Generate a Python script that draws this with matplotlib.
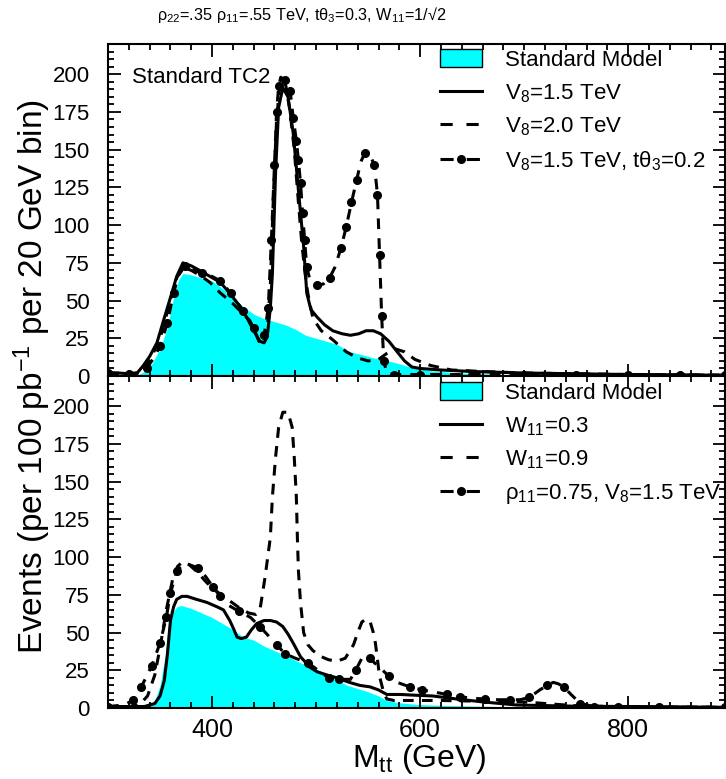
#!/usr/bin/env python3
# -*- coding: utf-8 -*-
"""
M_tt distributions in TC2: two stacked panels sharing the mass axis.
  top    : Standard TC2 vs V8 / t-theta3 variations
  bottom : W11 and rho11 variations
"""
import matplotlib
matplotlib.use("Agg")
import matplotlib.pyplot as plt
from matplotlib.lines import Line2D
from matplotlib.patches import Patch
from matplotlib.ticker import MultipleLocator

plt.rcParams.update({
    "font.family": ["Liberation Sans", "DejaVu Sans"],
    "mathtext.default": "regular",
    "axes.linewidth": 1.5,
})

CYAN = "#00FFFF"

# ---- top panel -------------------------------------------------------------
sm_top_x = [300, 320, 328, 335, 342, 350, 357, 363, 368, 372, 380, 390, 400,
            410, 420, 430, 440, 450, 460, 470, 480, 490, 500, 510, 520, 533,
            545, 555, 565, 575, 581, 590, 610, 640, 680, 720, 780, 850, 893]
sm_top_y = [0, 0, 0.5, 3, 8, 18, 32, 52, 64, 68, 67, 65, 63, 58, 52, 46, 41,
            38, 36, 34, 31, 27, 25, 23, 21, 16, 14, 12, 11, 9, 8, 6, 3.5, 2,
            1, 0.6, 0.3, 0.2, 0.1]

v15_x = [300, 310, 320, 328, 334, 340, 347, 353, 360, 366, 372, 380, 388, 398,
         408, 418, 427, 434, 440, 446, 450, 453, 456, 458, 461, 464, 468, 473,
         478, 483, 488, 491, 495, 501, 508, 516, 525, 533, 541, 548, 555, 562,
         570, 578, 585, 592, 600, 620, 650, 700, 750, 800, 850, 893]
v15_y = [2, 2, 1.5, 2, 7, 13, 22, 36, 52, 66, 75, 73, 70, 66, 62, 54, 46, 38,
         30, 23, 22, 26, 45, 68, 134, 178, 191, 185, 161, 123, 86, 55, 44, 39,
         34, 30, 28, 27, 28, 30, 30, 28, 23, 16, 10, 6, 5, 4, 3, 2, 1.5, 1,
         0.8, 0.5]

v20_x = [300, 320, 330, 340, 350, 360, 366, 372, 380, 390, 398, 408, 420, 430,
         436, 441, 445, 449, 453, 456, 459, 462, 465, 468, 471, 475, 479, 483,
         486, 489, 492, 497, 505, 516, 529, 540, 550, 560, 568, 576, 585, 595,
         610, 630, 660, 700, 750, 800, 893]
v20_y = [2, 1.5, 2, 10, 25, 50, 65, 72, 70, 66, 62, 55, 48, 41, 37, 30, 23,
         21, 30, 60, 120, 170, 192, 197, 192, 175, 150, 115, 90, 70, 55, 38,
         30, 24, 16, 12, 10, 11, 15, 18, 16, 11, 7, 4, 3, 2, 1.5, 1, 0.5]

tth_x = [300, 320, 330, 337, 344, 350, 357, 363, 368, 374, 380, 390, 400, 408,
         418, 430, 440, 446, 450, 454, 457, 460, 462, 464, 466, 470, 475, 478,
         481, 483, 485, 487, 489, 491, 494, 497, 501, 507, 513, 518, 524, 529,
         534, 539, 543, 547, 552, 556, 559, 561, 563, 565, 568, 575, 600, 650,
         700, 750, 800, 850, 893]
tth_y = [2, 1.5, 2, 5, 12, 20, 35, 55, 67, 73, 71, 68, 66, 63, 55, 43, 32, 26,
         27, 45, 90, 140, 175, 192, 198, 196, 189, 171, 156, 143, 128, 108,
         90, 72, 64, 61, 60, 61, 65, 72, 85, 99, 115, 130, 142, 148, 146, 140,
         120, 80, 40, 10, 2, 1, 1, 1, 1, 1, 0.8, 0.7, 0.5]

# ---- bottom panel ----------------------------------------------------------
sm_bot_x = [300, 330, 340, 345, 350, 355, 358, 362, 366, 370, 380, 390, 400,
            410, 420, 430, 440, 450, 460, 470, 485, 500, 516, 530, 549, 560,
            568, 580, 595, 612, 640, 676, 720, 780, 893]
sm_bot_y = [0, 0, 1, 5, 15, 35, 55, 63, 67, 68, 66, 63, 60, 56, 52, 47, 45,
            41, 38, 35, 30, 26, 20, 15, 11, 8, 5, 3.5, 2.5, 2, 1.5, 1, 0.6,
            0.3, 0.1]

w03_x = [300, 320, 335, 345, 350, 354, 357, 360, 363, 366, 371, 376, 385, 395,
         405, 411, 417, 421, 424, 428, 433, 438, 443, 450, 456, 462, 468, 473,
         478, 485, 494, 501, 510, 520, 532, 542, 552, 560, 568, 575, 581, 595,
         612, 635, 661, 693, 750, 800, 893]
w03_y = [1, 1, 1, 3, 8, 18, 35, 58, 67, 72, 74, 74, 72, 70, 67, 65, 58, 52, 47,
         46, 47, 52, 56, 58, 58, 57, 54, 49, 43, 34, 27, 24, 22, 20, 17, 15,
         14, 12, 9, 9, 9, 8.5, 8, 6, 4, 2, 1.2, 1, 0.5]

w09_x = [300, 320, 330, 338, 345, 350, 356, 362, 367, 372, 378, 386, 395, 405,
         415, 425, 435, 442, 446, 451, 456, 458, 461, 464, 468, 473, 477, 479,
         481, 482, 483, 485, 488, 492, 497, 505, 512, 520, 528, 536, 540, 544,
         548, 552, 555, 557, 561, 565, 568, 575, 590, 620, 660, 700, 750, 800,
         893]
w09_y = [1, 1, 2, 8, 22, 40, 65, 85, 94, 97, 95, 90, 83, 77, 72, 67, 63, 62,
         65, 87, 113, 140, 166, 186, 196, 196, 186, 166, 140, 113, 91, 70, 50,
         42, 38, 34, 32, 31, 33, 42, 50, 57, 59, 57, 50, 43, 21, 10, 6, 5, 5,
         5, 4.5, 4, 1.5, 0.8, 0.5]

rho_x = [300, 315, 324, 332, 342, 350, 356, 360, 366, 374, 386, 394, 401, 408,
         416, 426, 437, 446, 454, 462, 470, 480, 492, 502, 512, 522, 533, 538,
         544, 548, 552, 556, 561, 570, 578, 590, 602, 614, 626, 638, 650, 662,
         674, 686, 696, 705, 715, 722, 728, 733, 738, 745, 754, 767, 790, 830,
         893]
rho_y = [1, 2, 5, 14, 28, 43, 60, 76, 91, 96, 93, 87, 80, 74, 68, 64, 60, 54,
         48, 42, 36, 33, 30, 25, 20, 19, 19, 25, 33, 35, 33, 30, 27, 21, 17,
         14, 12, 10.5, 9, 7.5, 6.5, 6, 5.5, 5.5, 5.5, 7, 12, 15, 17, 16, 14, 9,
         3, 1, 0.8, 0.6, 0.5]

TOP_LABELS = ["Standard Model", "V$_8$=1.5 TeV", "V$_8$=2.0 TeV",
              "V$_8$=1.5 TeV, tθ$_3$=0.2"]
BOT_LABELS = ["Standard Model", "W$_{11}$=0.3", "W$_{11}$=0.9",
              "ρ$_{11}$=0.75, V$_8$=1.5 TeV"]

LW = 2.2
DASH = (3.5, 2.7)
DOTDASH = (3.5, 3.0)


def style_axis(ax):
    ax.set_xlim(300, 893)
    ax.set_ylim(0, 220)
    ax.xaxis.set_major_locator(MultipleLocator(200))
    ax.xaxis.set_minor_locator(MultipleLocator(20))
    ax.yaxis.set_major_locator(MultipleLocator(25))
    ax.yaxis.set_minor_locator(MultipleLocator(5))
    ax.tick_params(which="both", direction="in", top=True, right=True, width=1.3)
    ax.tick_params(which="major", length=9)
    ax.tick_params(which="minor", length=4.5)
    ax.tick_params(axis="y", pad=13, labelsize=16)
    ax.tick_params(axis="x", pad=7, labelsize=18)


def draw_panel(ax, sm, curves, labels, legend_y):
    ax.fill_between(sm[0], sm[1], 0, color=CYAN, lw=0, zorder=1)
    (sx, sy), (dx, dy), (mx, my) = curves
    ax.plot(sx, sy, "-", color="k", lw=LW, zorder=3)
    ax.plot(dx, dy, color="k", lw=LW, dashes=DASH, zorder=3)
    ax.plot(mx, my, color="k", lw=LW, dashes=DOTDASH, marker="o", ms=5.5,
            markevery=0.03, zorder=3)

    handles = [
        Patch(facecolor=CYAN, edgecolor="k", lw=1.0),
        Line2D([], [], color="k", lw=LW),
        Line2D([], [], color="k", lw=LW, dashes=(4, 4.5)),
        Line2D([], [], color="k", lw=LW, dashes=(4.3, 4.3), marker="o", ms=5.5),
    ]
    ax.legend(handles, labels, loc="upper left", bbox_to_anchor=(0.538, legend_y),
              frameon=False, fontsize=16, handlelength=1.9, handleheight=0.9,
              handletextpad=1.04, labelspacing=0.5, borderaxespad=0,
              borderpad=0, numpoints=1)
    style_axis(ax)


def main():
    fig = plt.figure(figsize=(7.26, 7.79), dpi=100)
    ax_top = fig.add_axes([0.1488, 0.5173, 0.8498, 0.4262])
    ax_bot = fig.add_axes([0.1488, 0.0911, 0.8498, 0.4262])

    draw_panel(ax_top, (sm_top_x, sm_top_y),
               [(v15_x, v15_y), (v20_x, v20_y), (tth_x, tth_y)],
               TOP_LABELS, 0.985)
    ax_top.tick_params(axis="x", labelbottom=False)
    ax_top.text(323, 198, "Standard TC2", fontsize=16, ha="left", va="center",
                zorder=2)

    draw_panel(ax_bot, (sm_bot_x, sm_bot_y),
               [(w03_x, w03_y), (w09_x, w09_y), (rho_x, rho_y)],
               BOT_LABELS, 0.982)

    fig.text(0.416, 0.981,
             "ρ$_{22}$=.35 ρ$_{11}$=.55 TeV, tθ$_3$=0.3, W$_{11}$=1/√2",
             fontsize=11.7, ha="center", va="center")
    fig.text(0.578, 0.0154, "M$_{tt}$ (GeV)", fontsize=23, ha="center",
             va="baseline")
    fig.text(0.044, 0.516, "Events (per 100 pb$^{-1}$ per 20 GeV bin)",
             fontsize=24, rotation=90, ha="center", va="center")

    fig.savefig("out.png", dpi=100)
    plt.close(fig)


if __name__ == "__main__":
    main()
